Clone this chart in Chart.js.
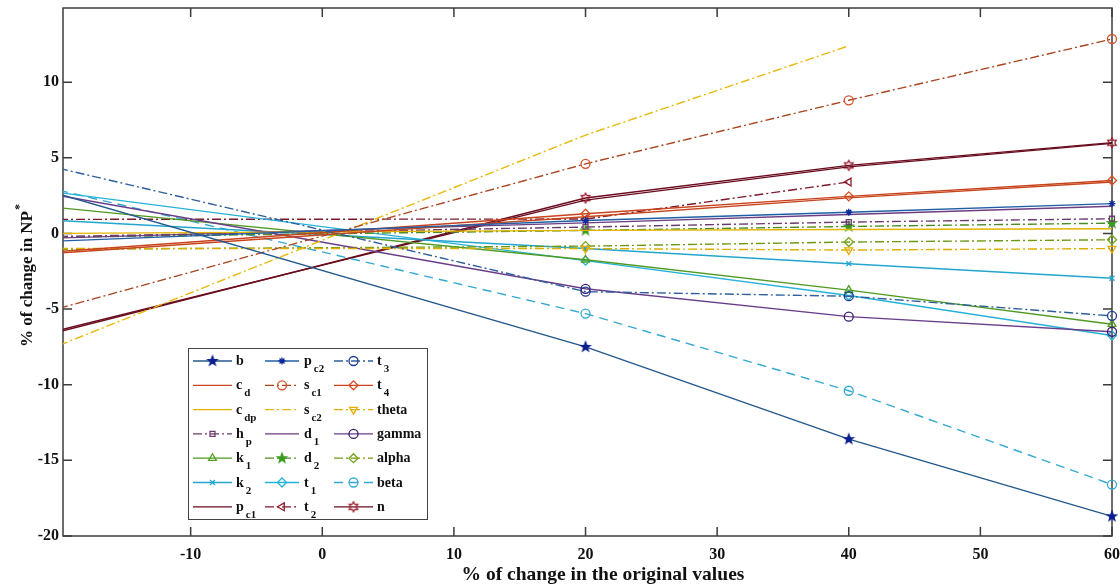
<!DOCTYPE html>
<html>
<head>
<meta charset="utf-8">
<script src="https://cdn.jsdelivr.net/npm/chart.js@4.4.1/dist/chart.umd.min.js"></script>
<style>
html, body { margin: 0; padding: 0; background: #fff; }
#wrap { width: 1120px; height: 587px; }
</style>
</head>
<body>
<div id="wrap"><canvas id="myChart" width="1120" height="587"></canvas></div>
<script>
// x positions of the sensitivity runs (% change of each parameter)
var xVals = [-20, 20, 40, 60]
var xTicks = [-10, 0, 10, 20, 30, 40, 50, 60]
var yTicks = [-20, -15, -10, -5, 0, 5, 10]

// series names, in legend order (row by row); "_" starts a subscript
var seriesNames = ['b', 'p_c2', 't_3', 'c_d', 's_c1', 't_4', 'c_dp', 's_c2', 'theta',
    'h_p', 'd_1', 'gamma', 'k_1', 'd_2', 'alpha', 'k_2', 't_1', 'beta', 'p_c1', 't_2', 'n']

// % change in NP*
var bVals = [2.6, -7.5, -13.6, -18.7]
var pc2Vals = [-0.5, 0.85, 1.4, 1.97]
var t3Vals = [4.3, -3.85, -4.15, -5.45]
var cdVals = [-1.3, 1.1, 2.35, 3.4]
var sc1Vals = [-4.95, 4.6, 8.8, 12.85]
var t4Vals = [-1.2, 1.3, 2.45, 3.5]
var cdpVals = [0.0, 0.2, 0.26, 0.31]
var sc2Vals = [-7.4, 6.5, 12.4]
var thetaVals = [-1.0, -1.0, -1.1, -1.0]
var hpVals = [-0.2, 0.42, 0.75, 0.97]
var d1Vals = [-0.3, 0.7, 1.25, 1.8]
var gammaVals = [2.5, -3.66, -5.5, -6.5]
var k1Vals = [1.7, -1.74, -3.75, -6.0]
var d2Vals = [-0.25, 0.2, 0.46, 0.68]
var alphaVals = [-1.05, -0.84, -0.57, -0.42]
var k2Vals = [0.85, -1.0, -2.0, -2.96]
var t1Vals = [2.7, -1.8, -4.1, -6.75]
var betaVals = [2.85, -5.3, -10.4, -16.6]
var pc1Vals = [-6.4, 2.2, 4.4, 5.95]
var t2Vals = [0.93, 0.95, 3.4]
var nVals = [-6.5, 2.34, 4.5, 6.0]

var seriesValues = [bVals, pc2Vals, t3Vals, cdVals, sc1Vals, t4Vals, cdpVals, sc2Vals, thetaVals,
    hpVals, d1Vals, gammaVals, k1Vals, d2Vals, alphaVals, k2Vals, t1Vals, betaVals, pc1Vals, t2Vals, nVals]

////----- styles
var SOLID = []
var DASHDOT = [9, 3, 2, 3]
var DASHED = [9, 6]

function starImage(color, spikes, outer, inner, filled) {
    var c = document.createElement('canvas')
    c.width = outer * 2 + 4
    c.height = outer * 2 + 4
    var g = c.getContext('2d')
    g.translate(c.width / 2, c.height / 2)
    g.beginPath()
    for (var i = 0; i < spikes * 2; i++) {
        var r = i % 2 == 0 ? outer : inner
        var a = -Math.PI / 2 + i * Math.PI / spikes
        if (i == 0) g.moveTo(r * Math.cos(a), r * Math.sin(a))
        else g.lineTo(r * Math.cos(a), r * Math.sin(a))
    }
    g.closePath()
    g.lineWidth = 1.2
    g.strokeStyle = color
    if (filled) {
        g.fillStyle = color
        g.fill()
    }
    g.stroke()
    return c
}

var seriesStyles = [
    { line: '#24588c', mark: '#0c1f8f', dash: SOLID, marker: starImage('#0c1f8f', 5, 5, 2.1, true) },
    { line: '#1f5fa6', mark: '#0a2a9a', dash: SOLID, marker: 'star', r: 3.5 },
    { line: '#2f5f9a', mark: '#1b3a8f', dash: DASHDOT, marker: 'circle' },
    { line: '#c8461c', mark: '#c8461c', dash: SOLID, marker: null },
    { line: '#a8451f', mark: '#d4522a', dash: DASHDOT, marker: 'circle' },
    { line: '#c9421b', mark: '#d54e1c', dash: SOLID, marker: 'rectRot' },
    { line: '#e2b400', mark: '#e2b400', dash: SOLID, marker: null },
    { line: '#e8b90a', mark: '#e8b90a', dash: DASHDOT, marker: null },
    { line: '#dcae00', mark: '#e6ad00', dash: DASHDOT, marker: 'triangle', rot: 180 },
    { line: '#6b3a6e', mark: '#6b3a6e', dash: DASHDOT, marker: 'rect', r: 3.5 },
    { line: '#6e3d82', mark: '#6e3d82', dash: SOLID, marker: null },
    { line: '#6a3d8a', mark: '#3a1c70', dash: SOLID, marker: 'circle' },
    { line: '#4f9a22', mark: '#4fa022', dash: SOLID, marker: 'triangle', rot: 0 },
    { line: '#4a8c22', mark: '#3a9c20', dash: DASHDOT, marker: starImage('#3a9c20', 5, 5, 2.1, true) },
    { line: '#6e9a12', mark: '#72a414', dash: DASHDOT, marker: 'rectRot' },
    { line: '#22a6cf', mark: '#22a6cf', dash: SOLID, marker: 'crossRot', r: 3.5 },
    { line: '#25b2d8', mark: '#25b2d8', dash: SOLID, marker: 'rectRot' },
    { line: '#33a9d2', mark: '#33a9d2', dash: DASHED, marker: 'circle' },
    { line: '#6a0c1e', mark: '#6a0c1e', dash: SOLID, marker: null },
    { line: '#7a1a2a', mark: '#8c1a2c', dash: DASHDOT, marker: 'triangle', rot: 270 },
    { line: '#6a0c1e', mark: '#9c1a2c', dash: SOLID, marker: starImage('#9c1a2c', 6, 5, 2.8, false) }
]

var datasets = []
seriesNames.forEach((name, i) => {
    var st = seriesStyles[i]
    var pts = []
    seriesValues[i].forEach((v, j) => {
        pts.push({ x: xVals[j], y: v })
    })
    datasets.push({
        label: name,
        data: pts,
        borderColor: st.line,
        borderWidth: 1.4,
        borderDash: st.dash,
        pointStyle: st.marker || 'circle',
        pointRotation: st.rot || 0,
        pointRadius: c => (!st.marker || c.raw.x < -19.7) ? 0 : (st.r || 4.5),
        pointBorderColor: st.mark,
        pointBackgroundColor: 'rgba(255,255,255,0)',
        pointBorderWidth: 1.3,
        tension: 0,
        fill: false,
        clip: { left: 0, top: 0, right: 10, bottom: 10 }
    })
})

////----- frame with inward ticks, like the original figure
var framePlugin = {
    id: 'frame',
    beforeDatasetsDraw(chart) {
        var ctx = chart.ctx
        var a = chart.chartArea
        var xs = chart.scales.x, ys = chart.scales.y
        ctx.save()
        ctx.strokeStyle = '#3c3c3c'
        ctx.lineWidth = 1.5
        ctx.strokeRect(a.left, a.top, a.right - a.left, a.bottom - a.top)
        ctx.beginPath()
        xTicks.forEach(v => {
            var px = xs.getPixelForValue(v)
            ctx.moveTo(px, a.bottom); ctx.lineTo(px, a.bottom - 9)
            ctx.moveTo(px, a.top); ctx.lineTo(px, a.top + 9)
        })
        yTicks.forEach(v => {
            var py = ys.getPixelForValue(v)
            ctx.moveTo(a.left, py); ctx.lineTo(a.left + 9, py)
            ctx.moveTo(a.right, py); ctx.lineTo(a.right - 9, py)
        })
        ctx.stroke()
        ctx.restore()
    }
}

var FONT = '"Liberation Serif", "Times New Roman", serif'

var titlePlugin = {
    id: 'titles',
    afterDraw(chart) {
        var ctx = chart.ctx
        ctx.save()
        ctx.fillStyle = '#111'
        // x title
        ctx.font = 'bold 19.5px ' + FONT
        ctx.textAlign = 'center'
        ctx.textBaseline = 'middle'
        ctx.fillText('% of change in the original values', 603, 575)
        // y title with superscript star
        var main = '% of change in NP'
        ctx.font = 'bold 17px ' + FONT
        var w1 = ctx.measureText(main).width
        ctx.font = 'bold 12px ' + FONT
        var w2 = ctx.measureText('*').width
        ctx.translate(26, 276)
        ctx.rotate(-Math.PI / 2)
        ctx.textBaseline = 'alphabetic'
        ctx.textAlign = 'left'
        var sx = -(w1 + w2) / 2
        ctx.font = 'bold 17px ' + FONT
        ctx.fillText(main, sx, 6)
        ctx.font = 'bold 12px ' + FONT
        ctx.fillText('*', sx + w1 + 1, -3)
        ctx.restore()
    }
}

var legendPlugin = {
    id: 'boxLegend',
    afterDraw(chart) {
        var ctx = chart.ctx
        var cols = [{ x1: 193, x2: 232, tx: 236 }, { x1: 265, x2: 299, tx: 304 }, { x1: 334, x2: 373, tx: 377 }]
        ctx.save()
        ctx.fillStyle = '#fff'
        ctx.fillRect(188, 348, 239, 171)
        ctx.strokeStyle = '#444'
        ctx.lineWidth = 1
        ctx.strokeRect(188.5, 348.5, 239, 171)
        chart.data.datasets.forEach((ds, i) => {
            var st = seriesStyles[i]
            var col = cols[i % 3]
            var y = 361 + Math.floor(i / 3) * 24.3
            ctx.setLineDash(st.dash)
            ctx.strokeStyle = st.line
            ctx.lineWidth = 1.3
            ctx.beginPath()
            ctx.moveTo(col.x1, y)
            ctx.lineTo(col.x2, y)
            ctx.stroke()
            ctx.setLineDash([])
            if (st.marker) {
                ctx.strokeStyle = st.mark
                ctx.fillStyle = 'rgba(255,255,255,0)'
                ctx.lineWidth = 1.3
                Chart.helpers.drawPoint(ctx, {
                    pointStyle: st.marker, rotation: st.rot || 0,
                    radius: st.r || 4.5, borderWidth: 1.3
                }, (col.x1 + col.x2) / 2, y)
            }
            var parts = ds.label.split('_')
            ctx.fillStyle = '#111'
            ctx.font = 'bold 14px ' + FONT
            ctx.fillText(parts[0], col.tx, y + 4)
            if (parts[1]) {
                var w = ctx.measureText(parts[0]).width
                ctx.font = 'bold 11px ' + FONT
                ctx.fillText(parts[1], col.tx + w + 2, y + 11)
            }
        })
        ctx.restore()
    }
}

var ctx = document.getElementById('myChart').getContext('2d')
var myChart = new Chart(ctx, {
    type: 'line',
    data: { datasets: datasets },
    options: {
        responsive: false,
        animation: false,
        devicePixelRatio: 1,
        layout: { padding: { left: 0, top: 8, right: 8, bottom: 0 } },
        plugins: {
            legend: { display: false },
            tooltip: { enabled: false }
        },
        scales: {
            x: {
                type: 'linear',
                min: -19.7,
                max: 60,
                afterBuildTicks: axis => { axis.ticks = xTicks.map(v => ({ value: v })) },
                afterFit: axis => {
                    axis.height = 51
                    axis.paddingLeft = 0
                    axis.paddingRight = 0
                },
                grid: { display: false, drawTicks: false },
                border: { display: false },
                ticks: { padding: 9, color: '#111', font: { family: FONT, size: 16, weight: 'bold' }, maxRotation: 0 }
            },
            y: {
                min: -20,
                max: 14.9,
                afterBuildTicks: axis => { axis.ticks = yTicks.map(v => ({ value: v })) },
                afterFit: axis => {
                    axis.width = 63
                    axis.paddingTop = 0
                    axis.paddingBottom = 0
                },
                grid: { display: false, drawTicks: false },
                border: { display: false },
                ticks: { padding: 4, color: '#111', font: { family: FONT, size: 16, weight: 'bold' } }
            }
        }
    },
    plugins: [framePlugin, titlePlugin, legendPlugin]
});
</script>
</body>
</html>
